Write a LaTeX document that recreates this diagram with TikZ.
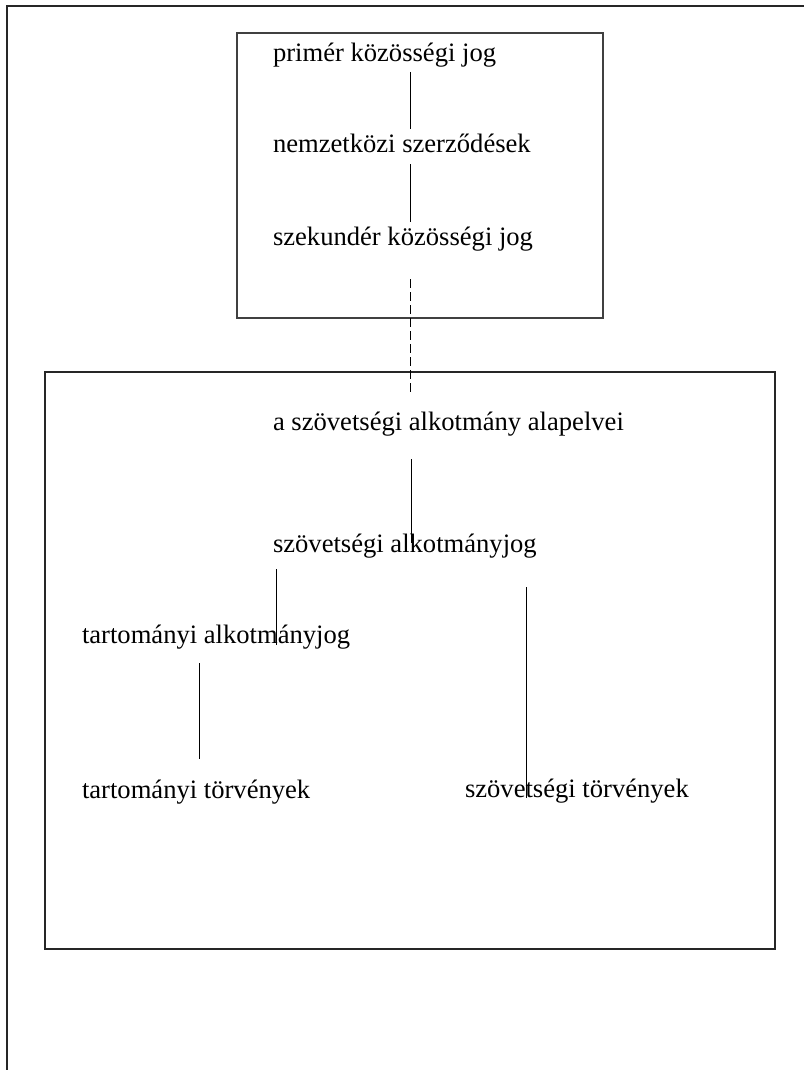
\documentclass[tikz,border=0pt]{standalone}
\usepackage{fontspec}
\setmainfont{Liberation Serif}
\begin{document}
\begin{tikzpicture}[x=1pt,y=-1pt,
  lbl/.style={anchor=base west,inner sep=0pt,outer sep=0pt,font=\fontsize{26.6}{32}\selectfont},
  link/.style={draw=black,line width=1pt},
  dlink/.style={draw=black,line width=1pt,dash pattern=on 9pt off 4pt},
  framebox/.style={draw=black!85,line width=2.2pt},
  thinbox/.style={draw=black!75,line width=1.1pt}]
\useasboundingbox (0,0) rectangle (803,1070);
% outer frame (continues beyond the right and bottom edges)
\draw[framebox] (7,1090) -- (7,6) -- (830,6);
% boxes
\draw[thinbox] (237,33) rectangle (603,318);
\draw[framebox] (45,372) rectangle (775,949);
% labels
\node[lbl] (p1) at (273,62) {primér közösségi jog};
\node[lbl] (p2) at (273,153) {nemzetközi szerződések};
\node[lbl] (p3) at (273,245) {szekundér közösségi jog};
\node[lbl] (a1) at (273,430) {a szövetségi alkotmány alapelvei};
\node[lbl] (a2) at (273,552) {szövetségi alkotmányjog};
\node[lbl] (t1) at (82,643) {tartományi alkotmányjog};
\node[lbl] (t2) at (82,798) {tartományi törvények};
\node[lbl] (s2) at (465,797) {szövetségi törvények};
% connector ends
\coordinate (c1a) at (410,72);  \coordinate (c1b) at (410,129);
\coordinate (c2a) at (410,164); \coordinate (c2b) at (410,222);
\coordinate (c3a) at (410,279); \coordinate (c3b) at (410,393);
\coordinate (c4a) at (411,459); \coordinate (c4b) at (411,543);
\coordinate (c5a) at (276,569); \coordinate (c5b) at (276,645);
\coordinate (c6a) at (199,663); \coordinate (c6b) at (199,759);
\coordinate (c7a) at (526,587); \coordinate (c7b) at (526,798);
% connectors
\draw[link] (c1a) -- (c1b);
\draw[link] (c2a) -- (c2b);
\draw[dlink] (c3a) -- (c3b);
\draw[link] (c4a) -- (c4b);
\draw[link] (c5a) -- (c5b);
\draw[link] (c6a) -- (c6b);
\draw[link] (c7a) -- (c7b);
\end{tikzpicture}
\end{document}
